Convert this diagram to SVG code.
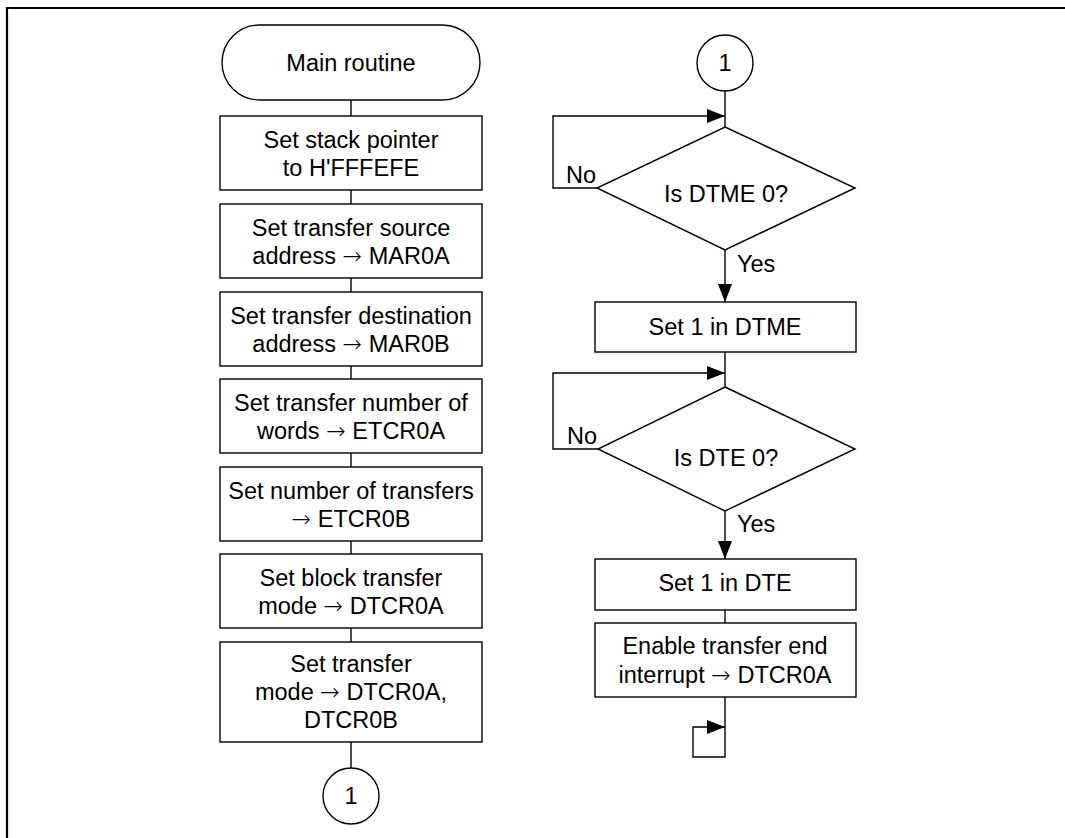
<svg xmlns="http://www.w3.org/2000/svg" width="1065" height="838" viewBox="0 0 1065 838">
<style>
.s{fill:#fff;stroke:#000;stroke-width:1.4}
.c{fill:none;stroke:#000;stroke-width:1.4}
text{font-family:"Liberation Sans",Arial,sans-serif;font-size:23.5px;fill:#000}
.m{text-anchor:middle}
.a{font-family:"DejaVu Sans",sans-serif;font-weight:200}
</style>
<defs>
<marker id="ah" markerWidth="18" markerHeight="14" refX="18" refY="7" orient="auto" markerUnits="userSpaceOnUse">
<path d="M0,0 L18,7 L0,14 Z" fill="#000"/>
</marker>
</defs>
<rect width="1065" height="838" fill="#fff"/>
<polyline points="7,838 7,8 1065,8" fill="none" stroke="#000" stroke-width="2.2"/>
<g id="connectors">
<line class="c" x1="351" y1="100" x2="351" y2="116"/>
<line class="c" x1="351" y1="190" x2="351" y2="204"/>
<line class="c" x1="351" y1="278" x2="351" y2="292"/>
<line class="c" x1="351" y1="366" x2="351" y2="379"/>
<line class="c" x1="351" y1="453" x2="351" y2="467"/>
<line class="c" x1="351" y1="541" x2="351" y2="554"/>
<line class="c" x1="351" y1="628" x2="351" y2="642"/>
<line class="c" x1="351" y1="742" x2="351" y2="768"/>
<line class="c" x1="725" y1="91" x2="725" y2="127"/>
<polyline class="c" points="597,188 553,188 553,116 725,116" marker-end="url(#ah)"/>
<line class="c" x1="725" y1="250" x2="725" y2="302" marker-end="url(#ah)"/>
<line class="c" x1="725" y1="352" x2="725" y2="387"/>
<polyline class="c" points="598,449 553,449 553,373 725,373" marker-end="url(#ah)"/>
<line class="c" x1="725" y1="511" x2="725" y2="559" marker-end="url(#ah)"/>
<line class="c" x1="725" y1="610" x2="725" y2="623"/>
<polyline class="c" points="725,697 725,757 693,757 693,727 725,727" marker-end="url(#ah)"/>
</g>
<g id="main-routine">
<rect class="s" x="222" y="25" width="258" height="75" rx="37.5" ry="37.5"/>
<text class="m" x="351" y="71">Main routine</text>
</g>
<g id="set-stack-pointer">
<rect class="s" x="220" y="116" width="262" height="74"/>
<text class="m" x="351" y="148">Set stack pointer</text>
<text class="m" x="351" y="176">to H'FFFEFE</text>
</g>
<g id="set-source">
<rect class="s" x="220" y="204" width="262" height="74"/>
<text class="m" x="351" y="236">Set transfer source</text>
<text class="m" x="351" y="264">address <tspan class="a">→</tspan> MAR0A</text>
</g>
<g id="set-destination">
<rect class="s" x="220" y="292" width="262" height="74"/>
<text class="m" x="351" y="324">Set transfer destination</text>
<text class="m" x="351" y="352">address <tspan class="a">→</tspan> MAR0B</text>
</g>
<g id="set-words">
<rect class="s" x="220" y="379" width="262" height="74"/>
<text class="m" x="351" y="411">Set transfer number of</text>
<text class="m" x="351" y="439">words <tspan class="a">→</tspan> ETCR0A</text>
</g>
<g id="set-transfers">
<rect class="s" x="220" y="467" width="262" height="74"/>
<text class="m" x="351" y="499">Set number of transfers</text>
<text class="m" x="351" y="527"><tspan class="a">→</tspan> ETCR0B</text>
</g>
<g id="set-block-mode">
<rect class="s" x="220" y="554" width="262" height="74"/>
<text class="m" x="351" y="586">Set block transfer</text>
<text class="m" x="351" y="614">mode <tspan class="a">→</tspan> DTCR0A</text>
</g>
<g id="set-transfer-mode">
<rect class="s" x="220" y="642" width="262" height="100"/>
<text class="m" x="351" y="672">Set transfer</text>
<text class="m" x="351" y="700">mode <tspan class="a">→</tspan> DTCR0A,</text>
<text class="m" x="351" y="728">DTCR0B</text>
</g>
<g id="connector-out">
<circle class="s" cx="351" cy="796" r="28"/>
<text class="m" x="351" y="804">1</text>
</g>
<g id="connector-in">
<circle class="s" cx="725" cy="63" r="28"/>
<text class="m" x="725" y="71">1</text>
</g>
<g id="is-dtme-0">
<polygon class="s" points="725,127 855,188 725,250 597,188"/>
<text class="m" x="726" y="202">Is DTME 0?</text>
<text x="566" y="183">No</text>
<text x="737" y="272">Yes</text>
</g>
<g id="set-dtme">
<rect class="s" x="595" y="302" width="261" height="50"/>
<text class="m" x="725" y="335">Set 1 in DTME</text>
</g>
<g id="is-dte-0">
<polygon class="s" points="725,387 855,449 725,511 598,449"/>
<text class="m" x="726" y="466">Is DTE 0?</text>
<text x="567" y="444">No</text>
<text x="737" y="532">Yes</text>
</g>
<g id="set-dte">
<rect class="s" x="595" y="559" width="261" height="51"/>
<text class="m" x="725" y="591">Set 1 in DTE</text>
</g>
<g id="enable-interrupt">
<rect class="s" x="595" y="623" width="261" height="74"/>
<text class="m" x="725" y="654">Enable transfer end</text>
<text class="m" x="725" y="683">interrupt <tspan class="a">→</tspan> DTCR0A</text>
</g>
</svg>
